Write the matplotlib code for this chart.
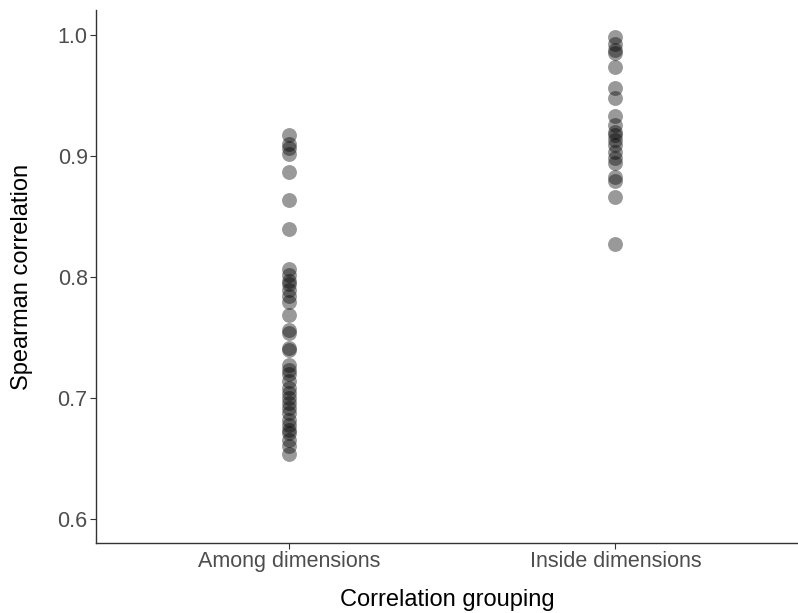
import matplotlib
matplotlib.use("Agg")
import matplotlib.pyplot as plt

plt.rcParams['font.family'] = ['Liberation Sans', 'DejaVu Sans']

categories = ["Among dimensions", "Inside dimensions"]
among = [0.917, 0.910, 0.907, 0.902, 0.887, 0.864, 0.840, 0.807, 0.802, 0.797,
         0.794, 0.789, 0.784, 0.779, 0.769, 0.756, 0.754, 0.741, 0.740, 0.727,
         0.723, 0.720, 0.714, 0.708, 0.704, 0.700, 0.696, 0.692, 0.688, 0.682,
         0.678, 0.674, 0.671, 0.665, 0.660, 0.654]
inside = [0.998, 0.993, 0.988, 0.985, 0.974, 0.956, 0.948, 0.933, 0.926, 0.920,
          0.917, 0.913, 0.909, 0.903, 0.898, 0.894, 0.883, 0.879, 0.866, 0.827]
yticks = [0.6, 0.7, 0.8, 0.9, 1.0]

W, H = 798, 613
top_px, bot_px, left_px, right_px = 10, 543, 96, 798
fig = plt.figure(figsize=(W / 100, H / 100), dpi=100)
ax = fig.add_axes([left_px / W, 1 - bot_px / H, (right_px - left_px) / W,
                   (bot_px - top_px) / H])

for i, vals in enumerate([among, inside]):
    ax.scatter([i + 1] * len(vals), vals, s=115, color='black', alpha=0.4,
               linewidths=0)

ax.set_xlim(0.408, 2.56)
ax.set_ylim(0.5802, 1.0207)
ax.set_xticks([1, 2])
ax.set_xticklabels(categories)
ax.set_yticks(yticks)
ax.set_yticklabels([f"{v:.1f}" for v in yticks])

for s in ['top', 'right']:
    ax.spines[s].set_visible(False)
for s in ['left', 'bottom']:
    ax.spines[s].set_color('#333333')
    ax.spines[s].set_linewidth(1.0)
ax.tick_params(axis='both', colors='#333333', length=4, width=0.8,
               labelsize=15.5, labelcolor='#4D4D4D', pad=2)

ax.set_xlabel("Correlation grouping", fontsize=17, color='black')
ax.xaxis.set_label_coords(0.5, -(600 - bot_px) / (bot_px - top_px),
                          transform=ax.transAxes)
ax.xaxis.label.set_va('center')
ax.set_ylabel("Spearman correlation", fontsize=17, color='black')
ax.yaxis.set_label_coords(-(left_px - 22) / (right_px - left_px), 0.5,
                          transform=ax.transAxes)
ax.yaxis.label.set_va('center')

fig.savefig("out.png", dpi=100)
